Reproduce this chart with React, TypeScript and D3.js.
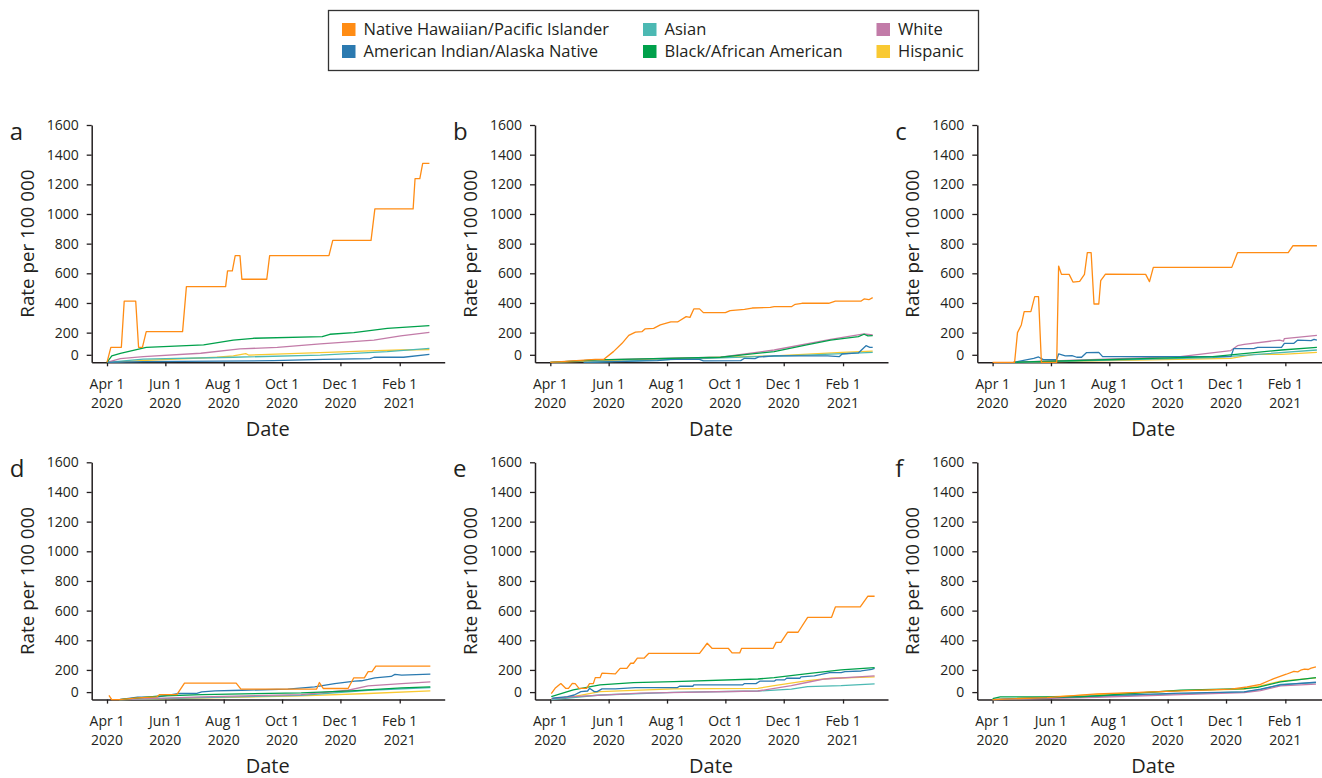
import { useRef, useEffect } from "react"
import * as d3 from "d3"

// each point: [days since Apr 1 2020, rate per 100 000]
const aNHPI = [[0, 0], [4, 101], [15, 101], [18, 413], [30, 413], [33, 101], [37, 101], [41, 207], [79, 207], [83, 510], [124, 510], [126, 616], [131, 616], [134, 719], [139, 719], [141, 560], [167, 560], [170, 719], [232, 719], [236, 822], [276, 822], [280, 1034], [320, 1034], [322, 1238], [327, 1238], [330, 1341], [337, 1341]]
const aAIAN = [[0, 0], [38, 4], [174, 11], [226, 20], [275, 25], [279, 34], [310, 34], [337, 54]]
const aAsian = [[0, 0], [38, 22], [132, 34], [223, 49], [293, 72], [337, 94]]
const aBlack = [[0, 0], [5, 43], [14, 60], [41, 101], [101, 117], [132, 150], [153, 162], [225, 173], [233, 189], [258, 200], [293, 229], [337, 247]]
const aWhite = [[0, 0], [14, 25], [38, 38], [98, 61], [139, 90], [178, 101], [223, 124], [279, 150], [307, 178], [337, 202]]
const aHispanic = [[0, 0], [35, 11], [115, 34], [132, 43], [145, 58], [148, 49], [230, 67], [282, 79], [307, 83], [337, 85]]

const bNHPI = [[0, 0], [47, 20], [56, 20], [66, 72], [75, 128], [82, 182], [89, 204], [96, 207], [99, 225], [108, 229], [115, 252], [126, 272], [133, 272], [142, 308], [146, 303], [150, 360], [156, 360], [160, 335], [183, 335], [188, 348], [203, 357], [211, 366], [230, 371], [234, 375], [252, 375], [256, 391], [263, 398], [291, 398], [298, 413], [325, 413], [328, 427], [333, 422], [337, 436]]
const bAIAN = [[35, 0], [112, 11], [126, 20], [156, 20], [160, 9], [199, 11], [203, 27], [214, 25], [218, 36], [234, 43], [290, 43], [302, 38], [305, 56], [322, 63], [330, 112], [334, 101], [337, 101]]
const bAsian = [[35, 0], [164, 27], [268, 49], [337, 67]]
const bBlack = [[0, 0], [49, 16], [178, 34], [206, 54], [234, 72], [268, 117], [293, 150], [322, 173], [328, 189], [332, 178], [337, 180]]
const bWhite = [[0, 0], [49, 16], [178, 34], [234, 83], [293, 155], [328, 191], [337, 184]]
const bHispanic = [[0, 0], [129, 27], [234, 43], [305, 67], [337, 76]]

const cNHPI = [[0, 0], [23, 0], [26, 200], [30, 252], [33, 342], [40, 342], [44, 443], [48, 443], [51, 0], [67, 0], [69, 649], [72, 593], [80, 593], [84, 541], [91, 546], [96, 593], [99, 739], [103, 739], [106, 393], [111, 393], [113, 550], [118, 595], [160, 593], [164, 544], [168, 640], [250, 640], [256, 739], [309, 739], [314, 786], [339, 786]]
const cAIAN = [[22, 0], [43, 27], [48, 36], [53, 18], [67, 18], [69, 56], [76, 43], [83, 45], [88, 34], [93, 34], [98, 65], [111, 67], [115, 38], [249, 38], [252, 92], [273, 92], [277, 101], [302, 101], [305, 128], [315, 128], [319, 150], [333, 146], [336, 155], [339, 150]]
const cAsian = [[22, 0], [230, 31], [339, 83]]
const cBlack = [[22, 0], [230, 38], [302, 83], [339, 101]]
const cWhite = [[22, 0], [196, 38], [249, 79], [256, 112], [263, 121], [300, 150], [304, 142], [305, 160], [339, 182]]
const cHispanic = [[22, 0], [249, 27], [273, 54], [302, 54], [339, 67]]

const dNHPI = [[2, 29], [5, 0], [13, 0], [32, 11], [52, 18], [55, 34], [73, 34], [81, 111], [135, 111], [140, 70], [219, 70], [222, 115], [226, 75], [252, 75], [258, 147], [269, 147], [273, 188], [277, 188], [281, 226], [338, 226]]
const dAIAN = [[13, 0], [32, 16], [53, 18], [74, 41], [93, 41], [99, 52], [113, 59], [141, 63], [189, 70], [217, 86], [238, 108], [259, 124], [266, 127], [273, 136], [280, 147], [297, 156], [301, 170], [308, 165], [338, 172]]
const dAsian = [[13, 0], [203, 29], [273, 63], [338, 81]]
const dBlack = [[13, 0], [53, 23], [99, 34], [203, 45], [255, 59], [308, 79], [338, 86]]
const dWhite = [[13, 0], [99, 18], [203, 34], [252, 63], [273, 93], [308, 108], [338, 120]]
const dHispanic = [[13, 0], [203, 25], [273, 41], [338, 59]]

const eNHPI = [[1, 40], [5, 76], [11, 108], [16, 76], [19, 76], [23, 110], [26, 108], [30, 76], [38, 76], [41, 108], [45, 108], [47, 148], [52, 148], [54, 178], [68, 173], [73, 211], [80, 211], [84, 245], [87, 245], [91, 279], [98, 279], [103, 312], [156, 312], [164, 380], [169, 346], [186, 346], [190, 315], [198, 315], [200, 346], [233, 346], [236, 386], [241, 386], [248, 454], [259, 454], [269, 555], [294, 555], [298, 625], [324, 625], [332, 697], [339, 697]]
const eAIAN = [[2, 9], [18, 20], [25, 31], [32, 54], [39, 58], [41, 76], [46, 54], [49, 54], [54, 72], [68, 72], [89, 81], [133, 81], [135, 90], [149, 90], [150, 99], [201, 99], [203, 108], [215, 108], [219, 124], [234, 124], [236, 133], [245, 133], [247, 144], [261, 144], [262, 153], [276, 160], [292, 182], [304, 182], [308, 189], [325, 193], [336, 204], [339, 211]]
const eAsian = [[1, 0], [7, 4], [52, 31], [129, 49], [217, 58], [252, 70], [269, 88], [304, 94], [339, 106]]
const eBlack = [[1, 20], [24, 65], [52, 99], [87, 115], [129, 121], [217, 139], [234, 148], [269, 175], [304, 200], [339, 216]]
const eWhite = [[1, 5], [24, 20], [94, 43], [217, 58], [252, 94], [269, 117], [287, 139], [339, 160]]
const eHispanic = [[1, 5], [24, 20], [52, 54], [129, 72], [217, 76], [234, 94], [269, 128], [294, 144], [339, 153]]

const fNHPI = [[0, 0], [57, 13], [109, 38], [197, 59], [249, 70], [266, 85], [280, 103], [294, 142], [307, 171], [315, 191], [319, 187], [322, 198], [326, 205], [330, 203], [333, 212], [338, 220]]
const fAIAN = [[0, 0], [109, 25], [197, 43], [263, 52], [280, 70], [301, 99], [338, 117]]
const fAsian = [[0, 0], [109, 20], [197, 38], [263, 52], [280, 67], [301, 103], [338, 115]]
const fBlack = [[0, 7], [8, 18], [92, 18], [197, 63], [263, 74], [277, 83], [301, 119], [338, 148]]
const fWhite = [[0, 0], [109, 16], [197, 34], [263, 47], [280, 61], [301, 92], [338, 104]]
const fHispanic = [[0, 0], [109, 34], [197, 61], [263, 70], [280, 92], [301, 124], [338, 146]]

const groups = ["Native Hawaiian/Pacific Islander", "American Indian/Alaska Native", "Asian", "Black/African American", "White", "Hispanic"]
const groupColors = ["#ff8c14", "#2b7ab0", "#4cb9b3", "#00a14b", "#c27ba8", "#f9c932"]
const panelLetters = ["a", "b", "c", "d", "e", "f"]
const panelSeries = [
  [aNHPI, aAIAN, aAsian, aBlack, aWhite, aHispanic],
  [bNHPI, bAIAN, bAsian, bBlack, bWhite, bHispanic],
  [cNHPI, cAIAN, cAsian, cBlack, cWhite, cHispanic],
  [dNHPI, dAIAN, dAsian, dBlack, dWhite, dHispanic],
  [eNHPI, eAIAN, eAsian, eBlack, eWhite, eHispanic],
  [fNHPI, fAIAN, fAsian, fBlack, fWhite, fHispanic],
]
const yTicks = [0, 200, 400, 600, 800, 1000, 1200, 1400, 1600]
const xTickLabels = [["Apr 1", "2020"], ["Jun 1", "2020"], ["Aug 1", "2020"], ["Oct 1", "2020"], ["Dec 1", "2020"], ["Feb 1", "2021"]]
const xTickDates = [new Date(2020, 3, 1), new Date(2020, 5, 1), new Date(2020, 7, 1), new Date(2020, 9, 1), new Date(2020, 11, 1), new Date(2021, 1, 1)]
const dateDomain = [new Date(2020, 2, 16), new Date(2021, 2, 20)]
const day0 = new Date(2020, 3, 1)

// draw order, back to front
const drawOrder = [5, 2, 4, 1, 3, 0]

export default function App() {
  const svgRef = useRef<SVGSVGElement>(null)

  useEffect(() => {
    if (!svgRef.current) return
    const svg = d3.select(svgRef.current)
    svg.selectAll("*").remove()

    const font = "'Open Sans', 'Noto Sans', sans-serif"
    const ink = "#231f20"
    const colX = [91.7, 535, 977.3]
    const rowTop = [125, 462.3]
    const plotH = 237.3
    const plotW = 353

    // legend
    const legend = svg.append("g")
    legend.append("rect")
      .attr("x", 328.5).attr("y", 10.5).attr("width", 650).attr("height", 60)
      .attr("fill", "white").attr("stroke", "#333").attr("stroke-width", 1.3)
    const legX = [342, 643, 876.5]
    const legY = [29.5, 51.5]
    groups.forEach((name, i) => {
      const cx = legX[Math.floor(i / 2)]
      const cy = legY[i % 2]
      legend.append("rect").attr("x", cx).attr("y", cy - 6.5).attr("width", 13.5).attr("height", 13)
        .attr("fill", groupColors[i])
      legend.append("text").attr("x", cx + 21.5).attr("y", cy + 5.8)
        .attr("font-family", font).attr("font-size", 16.5).attr("fill", ink).text(name)
    })

    panelSeries.forEach((series, p) => {
      const ox = colX[p % 3]
      const oy = rowTop[Math.floor(p / 3)]
      const g = svg.append("g").attr("transform", `translate(${ox}, ${oy})`)

      const x = d3.scaleTime().domain(dateDomain).range([0, plotW])
      const y = d3.scaleLinear().domain([0, 1600]).range([plotH, 0])

      const line = d3.line<number[]>()
        .x((d) => x(d3.timeDay.offset(day0, d[0])))
        .y((d) => y(d[1]))

      // y axis
      const yAxis = g.append("g")
        .call(d3.axisLeft(y).tickValues(yTicks).tickFormat(d3.format("d")).tickSize(5).tickPadding(8).tickSizeOuter(0))
      yAxis.select(".domain").attr("stroke", ink).attr("stroke-width", 1.5)
      yAxis.selectAll(".tick line").attr("stroke", ink).attr("stroke-width", 1.3)
      yAxis.selectAll(".tick text").attr("font-family", font).attr("font-size", 14).attr("fill", ink)
      // the 0 label sits a little above the x axis
      yAxis.selectAll(".tick").filter((d) => d === 0).attr("transform", `translate(0, ${y(0) - 7})`)

      // x axis
      const xAxis = g.append("g").attr("transform", `translate(0, ${plotH})`)
        .call(d3.axisBottom(x).tickValues(xTickDates).tickSize(4).tickSizeOuter(0).tickFormat(() => ""))
      xAxis.select(".domain").attr("stroke", ink).attr("stroke-width", 1.5)
      xAxis.selectAll(".tick line").attr("stroke", ink).attr("stroke-width", 1.3)
      xTickDates.forEach((dt, i) => {
        const t = g.append("text").attr("x", x(dt)).attr("text-anchor", "middle")
          .attr("font-family", font).attr("font-size", 14).attr("fill", ink)
        t.append("tspan").attr("x", x(dt)).attr("y", plotH + 26.5).text(xTickLabels[i][0])
        t.append("tspan").attr("x", x(dt)).attr("y", plotH + 45.5).text(xTickLabels[i][1])
      })

      // series
      drawOrder.forEach((k) => {
        g.append("path").datum(series[k]).attr("d", line)
          .attr("fill", "none").attr("stroke", groupColors[k]).attr("stroke-width", 1.3)
          .attr("stroke-linejoin", "round")
      })

      // titles
      g.append("text").attr("x", -82).attr("y", 14.5)
        .attr("font-family", font).attr("font-size", 24).attr("fill", ink).text(panelLetters[p])
      g.append("text").attr("transform", `translate(-58, ${plotH / 2}) rotate(-90)`)
        .attr("text-anchor", "middle").attr("font-family", font).attr("font-size", 18.8).attr("fill", ink)
        .text("Rate per 100 000")
      g.append("text").attr("x", 176).attr("y", plotH + 73.5).attr("text-anchor", "middle")
        .attr("font-family", font).attr("font-size", 20).attr("fill", ink).text("Date")
    })
  }, [])

  return (
    <svg
      ref={svgRef}
      width={1322}
      height={778}
      style={{ position: "absolute", left: 0, top: 0, background: "white" }}
    />
  )
}
